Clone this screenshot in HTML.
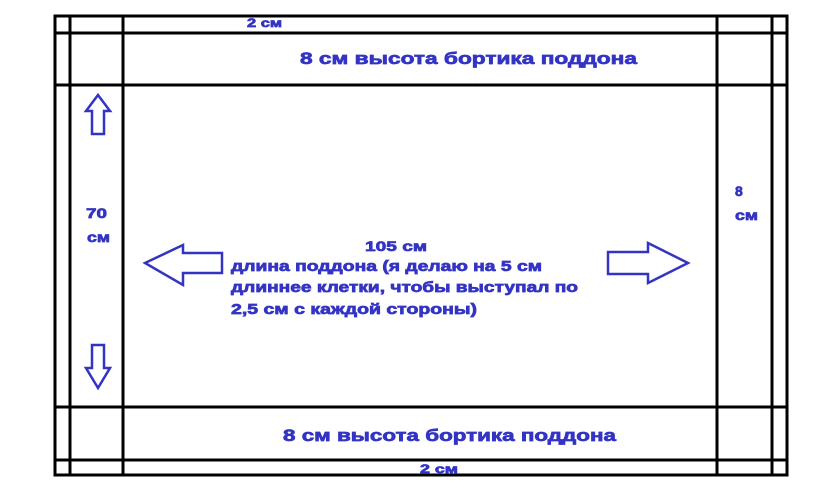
<!DOCTYPE html>
<html><head><meta charset="utf-8"><style>
body{margin:0;background:#fff;}
svg text{font-family:"Liberation Sans",sans-serif;font-weight:bold;fill:#3434c4;stroke:#3434c4;stroke-width:0.7;}
</style></head><body>
<svg width="840" height="494" viewBox="0 0 840 494" xmlns="http://www.w3.org/2000/svg">
<g stroke="#000" stroke-width="3" fill="none">
<rect x="55" y="16" width="732" height="459"/>
<line x1="70" y1="16" x2="70" y2="475"/>
<line x1="123" y1="16" x2="123" y2="475"/>
<line x1="717" y1="16" x2="717" y2="475"/>
<line x1="772" y1="16" x2="772" y2="475"/>
<line x1="55" y1="33" x2="787" y2="33"/>
<line x1="55" y1="85" x2="787" y2="85"/>
<line x1="55" y1="407" x2="787" y2="407"/>
<line x1="55" y1="460" x2="787" y2="460"/>
</g>
<g stroke="#3434c4" stroke-width="2.5" fill="none" stroke-linejoin="miter">
<polygon points="145,263 183,245 183,253 222,253 222,273 183,273 183,285"/>
<polygon points="688,263 648,243 648,252 608,252 608,274 648,274 648,283"/>
<polygon points="98,95 110,111 104,111 104,134 92,134 92,111 86,111"/>
<polygon points="98,388 110,368 104,368 104,345 92,345 92,368 86,368"/>
</g>
<text x="247" y="27" font-size="12" textLength="35" lengthAdjust="spacingAndGlyphs">2 см</text>
<text x="300" y="64" font-size="17" textLength="337" lengthAdjust="spacingAndGlyphs">8 см высота бортика поддона</text>
<text x="283" y="441" font-size="17" textLength="333" lengthAdjust="spacingAndGlyphs">8 см высота бортика поддона</text>
<text x="420" y="473" font-size="12" textLength="38" lengthAdjust="spacingAndGlyphs">2 см</text>
<text x="86" y="218" font-size="14" textLength="21" lengthAdjust="spacingAndGlyphs">70</text>
<text x="87" y="242" font-size="14" textLength="23" lengthAdjust="spacingAndGlyphs">см</text>
<text x="735" y="196" font-size="14">8</text>
<text x="735" y="220" font-size="14" textLength="23" lengthAdjust="spacingAndGlyphs">см</text>
<text x="365" y="251" font-size="14" textLength="62" lengthAdjust="spacingAndGlyphs">105 см</text>
<text x="231" y="271" font-size="14.5" textLength="311" lengthAdjust="spacingAndGlyphs">длина поддона (я делаю на 5 см</text>
<text x="231" y="292" font-size="14.5" textLength="347" lengthAdjust="spacingAndGlyphs">длиннее клетки, чтобы выступал по</text>
<text x="231" y="314" font-size="14.5" textLength="246" lengthAdjust="spacingAndGlyphs">2,5 см с каждой стороны)</text>
</svg>
</body></html>
